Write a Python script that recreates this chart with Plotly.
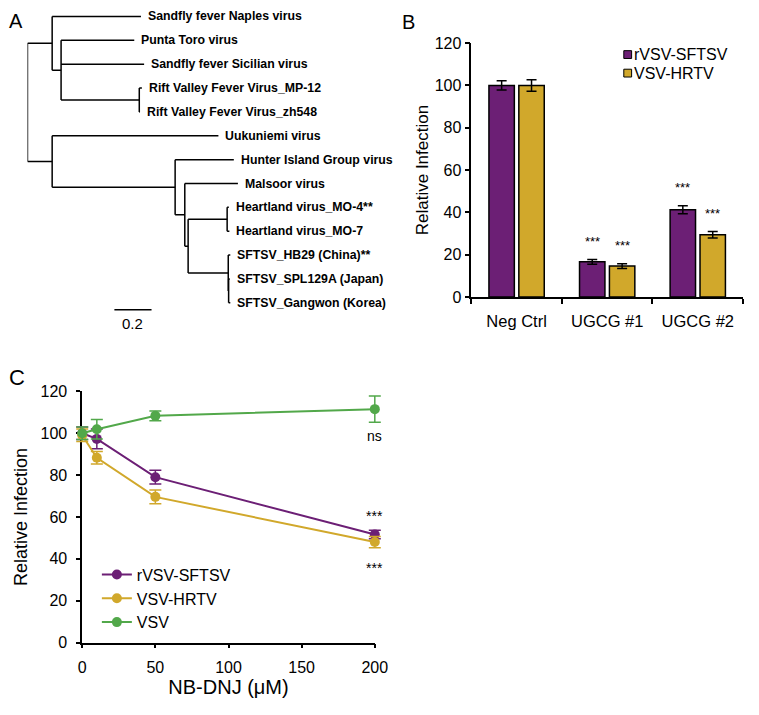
import plotly.graph_objects as go

W, H = 759, 715
FONT = "Arial, Liberation Sans, sans-serif"
PURPLE = "#6C1F75"
GOLD = "#D1A82B"
GREEN = "#52A84A"
BLACK = "#000000"

# ---------------- Panel A: phylogenetic tree ----------------
tip_labels = [
    "Sandfly fever Naples virus",
    "Punta Toro virus",
    "Sandfly fever Sicilian virus",
    "Rift Valley Fever Virus_MP-12",
    "Rift Valley Fever Virus_zh548",
    "Uukuniemi virus",
    "Hunter Island Group virus",
    "Malsoor virus",
    "Heartland virus_MO-4**",
    "Heartland virus_MO-7",
    "SFTSV_HB29 (China)**",
    "SFTSV_SPL129A (Japan)",
    "SFTSV_Gangwon (Korea)",
]
# (branch length, child); child is a tip index or a list of children
tree = [
    (0.133, [
        (0.478, 0),
        (0.048, [(0.394, 1), (0.447, 2), (0.421, [(0.014, 3), (0.004, 4)])]),
    ]),
    (0.133, [
        (0.895, 5),
        (0.662, [
            (0.316, 6),
            (0.052, [
                (0.286, 7),
                (0.018, [
                    (0.210, [(0.009, 8), (0.012, 9)]),
                    (0.216, [(0.011, 10), (0.002, [(0.006, 11), (0.009, 12)])]),
                ]),
            ]),
        ]),
    ]),
]
scale_bar_len = 0.2
scale_bar_start = 0.468

seg_x, seg_y = [], []
tip_x = {}


def layout_node(x0, children):
    ys = []
    for bl, ch in children:
        x1 = x0 + bl
        if isinstance(ch, list):
            y = layout_node(x1, ch)
        else:
            y = ch
            tip_x[ch] = x1
        seg_x.extend([x0, x1, None])
        seg_y.extend([y, y, None])
        ys.append(y)
    seg_x.extend([x0, x0, None])
    seg_y.extend([ys[0], ys[-1], None])
    return (ys[0] + ys[-1]) / 2


layout_node(0.0, tree)

fig = go.Figure()

fig.add_trace(go.Scatter(
    x=seg_x, y=seg_y, mode="lines", line=dict(color=BLACK, width=1.5),
    xaxis="x3", yaxis="y3", showlegend=False, hoverinfo="skip", cliponaxis=False,
))
fig.add_trace(go.Scatter(
    x=[scale_bar_start, scale_bar_start + scale_bar_len], y=[12.29, 12.29], mode="lines",
    line=dict(color=BLACK, width=1.5), xaxis="x3", yaxis="y3", showlegend=False,
    hoverinfo="skip", cliponaxis=False,
))

annotations = []
shapes = []
for i, name in enumerate(tip_labels):
    annotations.append(dict(
        x=tip_x[i], y=i, xref="x3", yref="y3", text="<b>%s</b>" % name,
        showarrow=False, xanchor="left", yanchor="middle", xshift=5,
        font=dict(family=FONT, size=12.3, color=BLACK),
    ))
annotations.append(dict(
    x=scale_bar_start + scale_bar_len / 2, y=12.85, xref="x3", yref="y3", text="0.2",
    showarrow=False, xanchor="center", yanchor="middle",
    font=dict(family=FONT, size=15, color=BLACK),
))

# ---------------- Panel B: bar chart ----------------
categories = ["Neg Ctrl", "UGCG #1", "UGCG #2"]
sftsv_b = [100, 16.6, 41.2]
sftsv_b_err = [2.2, 1.1, 1.9]
hrtv_b = [100, 14.6, 29.4]
hrtv_b_err = [2.7, 1.1, 1.5]
sig_b_labels = ["", "***", "***"]
legend_b = [("rVSV-SFTSV", PURPLE), ("VSV-HRTV", GOLD)]

fig.add_trace(go.Bar(
    x=categories, y=sftsv_b, name="rVSV-SFTSV", marker=dict(color=PURPLE, line=dict(color=BLACK, width=1.5)),
    error_y=dict(type="data", array=sftsv_b_err, color=BLACK, thickness=1.5, width=5),
    xaxis="x", yaxis="y", showlegend=False,
))
fig.add_trace(go.Bar(
    x=categories, y=hrtv_b, name="VSV-HRTV", marker=dict(color=GOLD, line=dict(color=BLACK, width=1.5)),
    error_y=dict(type="data", array=hrtv_b_err, color=BLACK, thickness=1.5, width=5),
    xaxis="x", yaxis="y", showlegend=False,
))

bar_offset = 0.165
for i, lab in enumerate(sig_b_labels):
    if not lab:
        continue
    for off, v, e in ((-bar_offset, sftsv_b[i], sftsv_b_err[i]), (bar_offset, hrtv_b[i], hrtv_b_err[i])):
        annotations.append(dict(
            x=i + off, y=v + e, xref="x", yref="y", text=lab, showarrow=False,
            xanchor="center", yanchor="bottom", yshift=9,
            font=dict(family=FONT, size=13, color=BLACK),
        ))

# legend for panel B (square swatches next to labels)
for k, (lab, col) in enumerate(legend_b):
    yc = 47.7 + 19 * k
    shapes.append(dict(type="rect", xref="paper", yref="paper",
                       x0=634 / W, x1=642 / W, y0=1 - (yc + 4) / H, y1=1 - (yc - 4) / H,
                       fillcolor=col, line=dict(color=BLACK, width=1)))
    annotations.append(dict(x=643 / W, y=1 - yc / H, xref="paper", yref="paper", text=lab,
                            showarrow=False, xanchor="left", yanchor="middle", xshift=-1,
                            font=dict(family=FONT, size=16, color=BLACK)))

# ---------------- Panel C: dose response ----------------
conc = [0, 10, 50, 200]
sftsv_c = [100, 97.3, 79, 51.6]
sftsv_c_err = [3, 4.7, 3.3, 2]
hrtv_c = [99, 88.3, 69.6, 48]
hrtv_c_err = [3, 3, 3.3, 2.7]
vsv_c = [100, 101.9, 108.3, 111.5]
vsv_c_err = [3, 4.7, 2.3, 6.3]

# empty trace so that the visible panel-C axes are drawn
fig.add_trace(go.Scatter(x=[None], y=[None], xaxis="x2", yaxis="y2", showlegend=False, hoverinfo="skip"))

for name, ys, errs, col in (("rVSV-SFTSV", sftsv_c, sftsv_c_err, PURPLE),
                             ("VSV-HRTV", hrtv_c, hrtv_c_err, GOLD),
                             ("VSV", vsv_c, vsv_c_err, GREEN)):
    fig.add_trace(go.Scatter(
        x=conc, y=ys, name=name, mode="lines+markers",
        line=dict(color=col, width=2), marker=dict(color=col, size=10),
        error_y=dict(type="data", array=errs, color=col, thickness=1.5, width=6),
        xaxis="x4", yaxis="y4", legend="legend2", cliponaxis=False,
    ))

annotations += [
    dict(x=200, y=vsv_c[3] - vsv_c_err[3], xref="x4", yref="y4", text="ns", showarrow=False,
         yanchor="top", yshift=-4, font=dict(family=FONT, size=14, color=BLACK)),
    dict(x=200, y=sftsv_c[3] + sftsv_c_err[3], xref="x4", yref="y4", text="***", showarrow=False,
         yanchor="bottom", yshift=4, font=dict(family=FONT, size=14, color=BLACK)),
    dict(x=200, y=hrtv_c[3] - hrtv_c_err[3], xref="x4", yref="y4", text="***", showarrow=False,
         yanchor="top", yshift=-10, font=dict(family=FONT, size=14, color=BLACK)),
]

# panel letters
for letter, px, py, sz in (("A", 3, 13, 20), ("B", 405, 14, 20), ("C", 3, 378, 22)):
    annotations.append(dict(x=px / W, y=1 - py / H, xref="paper", yref="paper", text=letter,
                            showarrow=False, xanchor="left", yanchor="middle",
                            font=dict(family=FONT, size=sz, color=BLACK)))


def px_x(p):
    return p / W


def px_y(p):
    return 1 - p / H


axis_common = dict(showline=True, linecolor=BLACK, linewidth=1.5, ticks="outside",
                   tickcolor=BLACK, tickwidth=1.5, showgrid=False, zeroline=False,
                   tickfont=dict(family=FONT, size=16, color=BLACK))

# panel C: visible axes span 0..200; the data axes extend a little so error caps are not clipped
c_x0, c_x1 = 80, 379.3
c_pad = 10
c_ppu = (c_x1 - c_x0) / 200

fig.update_layout(
    width=W, height=H, margin=dict(l=0, r=0, t=0, b=0),
    paper_bgcolor="white", plot_bgcolor="rgba(0,0,0,0)",
    font=dict(family=FONT, color=BLACK),
    barmode="group", bargap=0.34, bargroupgap=0.15,
    xaxis=dict(domain=[px_x(478), px_x(756)], type="category", range=[-0.5, 2.5],
               tickson="boundaries", ticklen=5, ticklabelstandoff=8,
               anchor="y", **{**axis_common, "tickfont": dict(family=FONT, size=16.5, color=BLACK)}),
    yaxis=dict(domain=[px_y(296), px_y(36)], range=[0, 120], dtick=20, ticklen=5, anchor="x",
               title=dict(text="Relative Infection", font=dict(family=FONT, size=17, color=BLACK), standoff=2),
               **axis_common),
    xaxis2=dict(domain=[px_x(c_x0), px_x(c_x1)], range=[0, 200], dtick=50, ticklen=4, anchor="y2",
                ticklabelstandoff=6,
                title=dict(text="NB-DNJ (μM)", font=dict(family=FONT, size=20, color=BLACK), standoff=4),
                **axis_common),
    yaxis2=dict(domain=[px_y(650), px_y(392.7)], range=[0, 120], dtick=20, ticklen=4, anchor="x2",
                ticklabelstandoff=6,
                title=dict(text="Relative Infection", font=dict(family=FONT, size=18, color=BLACK), standoff=8),
                **axis_common),
    xaxis4=dict(domain=[px_x(c_x0 - c_pad * c_ppu), px_x(c_x1 + c_pad * c_ppu)],
                range=[-c_pad, 200 + c_pad], visible=False, anchor="y4"),
    yaxis4=dict(domain=[px_y(650), px_y(392.7)], range=[0, 120], visible=False, anchor="x4"),
    xaxis3=dict(domain=[px_x(24), px_x(24 + 190 * 1.6)], range=[0, 1.6], visible=False, anchor="y3"),
    yaxis3=dict(domain=[px_y(330), px_y(0)], range=[13.146, -0.356], visible=False, anchor="x3"),
    legend2=dict(x=px_x(95), y=px_y(563), xanchor="left", yanchor="top", bgcolor="rgba(0,0,0,0)",
                 font=dict(family=FONT, size=16, color=BLACK), tracegroupgap=0),
    annotations=annotations,
    shapes=shapes,
    showlegend=True,
)

fig.write_html(
    "out.html",
    config={"displayModeBar": False},
    post_script=("document.documentElement.style.margin='0px';"
                 "document.body.style.margin='0px';"
                 "document.body.style.padding='0px';"),
)
